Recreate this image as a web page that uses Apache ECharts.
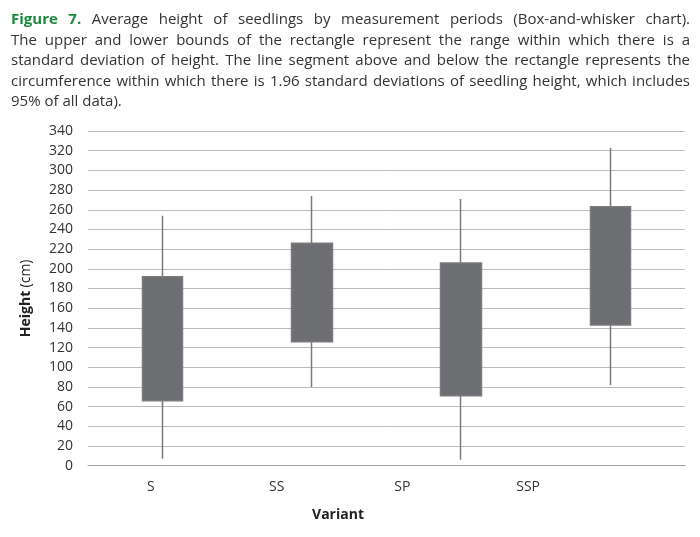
<!DOCTYPE html>
<html>
<head>
<meta charset="utf-8">
<script src="https://cdn.jsdelivr.net/npm/echarts@6/dist/echarts.min.js"></script>
<style>html,body{margin:0;padding:0;background:#fff}#c{width:700px;height:537px}</style>
</head>
<body>
<div id="c"></div>
<script>
// ---- Data ----
const categories = ['S', 'SS', 'SP', 'SSP'];
const lowerWhisker = [7, 80, 6, 82];      // mean - 1.96 SD
const boxLower     = [66, 126, 71, 143];  // mean - SD
const boxUpper     = [192, 226, 206, 263];// mean + SD
const upperWhisker = [254, 274, 271, 323];// mean + 1.96 SD
const yTicks = [0, 340, 20]; // min, max, interval

const titleLines = [
  'Figure 7. Average height of seedlings by measurement periods (Box-and-whisker chart).',
  'The upper and lower bounds of the rectangle represent the range within which there is a',
  'standard deviation of height. The line segment above and below the rectangle represents the',
  'circumference within which there is 1.96 standard deviations of seedling height, which includes',
  '95% of all data).'
];

// ---- Title layout (justified text) ----
const FAM = '"Open Sans", "Noto Sans", sans-serif';
const ctx = document.createElement('canvas').getContext('2d');
function mw(t, f) { ctx.font = f; return ctx.measureText(t).width; }
const LEFT = 11, WIDTH = 679;
let fs = 15;
{
  const w = mw(titleLines[3], fs + 'px ' + FAM);
  fs = Math.min(15, fs * 676 / w);
}
const fNorm = fs + 'px ' + FAM;
const fBold = 'bold ' + fs + 'px ' + FAM;
const titleGraphics = [];
titleLines.forEach((line, li) => {
  const words = line.split(' ');
  const fonts = words.map((w, wi) => (li === 0 && wi < 2) ? fBold : fNorm);
  const widths = words.map((w, wi) => mw(w, fonts[wi]));
  const sum = widths.reduce((a, b) => a + b, 0);
  const justify = li < titleLines.length - 1;
  const gap = justify ? (WIDTH - sum) / (words.length - 1) : mw(' ', fNorm);
  let x = LEFT;
  const y = 20 + li * 20.5;
  words.forEach((w, wi) => {
    titleGraphics.push({
      type: 'text', x: x, y: y,
      style: { text: w, font: fonts[wi], fill: (li === 0 && wi < 2) ? '#1b8a3c' : '#333333', textVerticalAlign: 'middle' }
    });
    x += widths[wi] + gap;
  });
});

const candleData = categories.map((c, i) => [boxLower[i], boxUpper[i], lowerWhisker[i], upperWhisker[i]]);

const chart = echarts.init(document.getElementById('c'));
chart.setOption({
  animation: false,
  backgroundColor: '#fff',
  grid: [
    { left: 88, right: 15, top: 131, bottom: 71.3 },
    { left: 88, width: 503, top: 131, bottom: 71.3 }
  ],
  xAxis: [
    { type: 'category', data: categories, gridIndex: 0,
      axisLine: { show: true, lineStyle: { color: '#a0a0a0', width: 1.2 } },
      axisTick: { show: false }, axisLabel: { show: false }, splitLine: { show: false } },
    { type: 'category', data: categories, gridIndex: 1,
      axisLine: { show: false }, axisTick: { show: false },
      axisLabel: { show: true, fontFamily: FAM, fontSize: 14, color: '#333', margin: 14 } }
  ],
  yAxis: [
    { type: 'value', gridIndex: 0, min: yTicks[0], max: yTicks[1], interval: yTicks[2],
      axisLine: { show: false }, axisTick: { show: false },
      axisLabel: { fontFamily: FAM, fontSize: 14, color: '#333', margin: 15 },
      splitLine: { lineStyle: { color: '#bbbbbb', width: 1 } },
      name: '{b|Height} {n|(cm)}', nameLocation: 'middle', nameGap: 55, nameRotate: 90,
      nameTextStyle: { rich: {
        b: { fontFamily: FAM, fontSize: 14, fontWeight: 'bold', color: '#222' },
        n: { fontFamily: FAM, fontSize: 14, color: '#222' } } } },
    { type: 'value', gridIndex: 1, min: 0, max: 340, show: false, splitLine: { show: false } }
  ],
  graphic: titleGraphics.concat([
    { type: 'text', x: 338, y: 515,
      style: { text: 'Variant', font: 'bold 14px ' + FAM, fill: '#222', textAlign: 'center', textVerticalAlign: 'middle' } }
  ]),
  series: [{
    type: 'candlestick', xAxisIndex: 0, yAxisIndex: 0,
    data: candleData, barWidth: 41,
    itemStyle: { color: '#6d6e71', color0: '#6d6e71', borderColor: '#7b7b7d', borderColor0: '#7b7b7d', borderWidth: 1.5 }
  }]
});
</script>
</body>
</html>
